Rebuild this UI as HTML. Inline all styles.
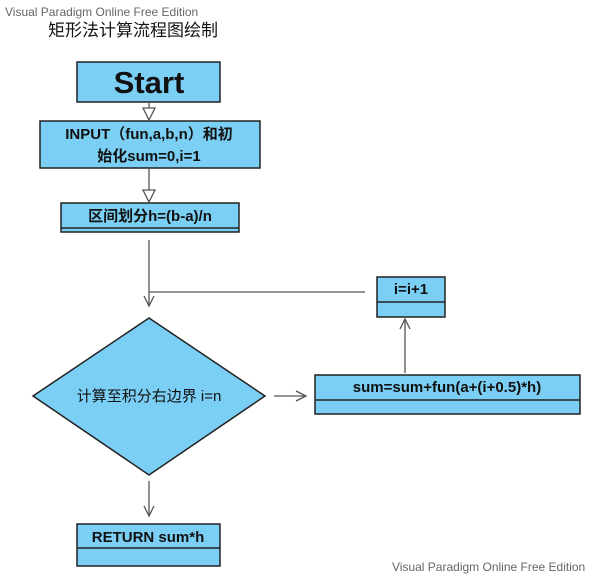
<!DOCTYPE html>
<html><head><meta charset="utf-8"><style>
body{margin:0;background:#fff;width:591px;height:577px;overflow:hidden;}
</style></head><body>
<svg width="591" height="577" xmlns="http://www.w3.org/2000/svg" font-family="Liberation Sans, Noto Sans CJK SC, sans-serif">
<text x="5" y="16" font-size="12" fill="#666">Visual Paradigm Online Free Edition</text>
<text x="48" y="36" font-size="17" fill="#111">矩形法计算流程图绘制</text>
<text x="392" y="571" font-size="12" fill="#666">Visual Paradigm Online Free Edition</text>
<g stroke="#222" stroke-width="1.5" fill="#7bcff4">
<rect x="77" y="62" width="143" height="40"/>
<rect x="40" y="121" width="220" height="47"/>
<rect x="61" y="203" width="178" height="29"/>
<line x1="61" y1="228" x2="239" y2="228"/>
<polygon points="149,318 265,396 149,475 33,396"/>
<rect x="315" y="375" width="265" height="39"/>
<line x1="315" y1="400" x2="580" y2="400"/>
<rect x="377" y="277" width="68" height="40"/>
<line x1="377" y1="302" x2="445" y2="302"/>
<rect x="77" y="524" width="143" height="42"/>
<line x1="77" y1="548" x2="220" y2="548"/>
</g>
<g stroke="#555" stroke-width="1.3" fill="none">
<line x1="149" y1="102" x2="149" y2="108"/>
<polygon points="143,108 155,108 149,120" fill="#fff"/>
<line x1="149" y1="168" x2="149" y2="190"/>
<polygon points="143,190 155,190 149,202" fill="#fff"/>
<line x1="149" y1="240" x2="149" y2="306"/>
<polyline points="144,296 149,306 154,296"/>
<line x1="365" y1="292" x2="149" y2="292"/>
<line x1="274" y1="396" x2="306" y2="396"/>
<polyline points="296,391 306,396 296,401"/>
<line x1="405" y1="373" x2="405" y2="319"/>
<polyline points="400,329 405,319 410,329"/>
<line x1="149" y1="481" x2="149" y2="516"/>
<polyline points="144,506 149,516 154,506"/>
</g>
<g fill="#111" font-weight="bold" text-anchor="middle">
<text x="149" y="93" font-size="31">Start</text>
<text x="149" y="139" font-size="15">INPUT（fun,a,b,n）和初</text>
<text x="149" y="161" font-size="15">始化sum=0,i=1</text>
<text x="150" y="221" font-size="15">区间划分h=(b-a)/n</text>
<text x="447" y="392" font-size="15">sum=sum+fun(a+(i+0.5)*h)</text>
<text x="411" y="294" font-size="15">i=i+1</text>
<text x="148" y="542" font-size="15">RETURN sum*h</text>
</g>
<text x="149" y="401" font-size="15" text-anchor="middle" fill="#111">计算至积分右边界 i=n</text>
</svg>
</body></html>
